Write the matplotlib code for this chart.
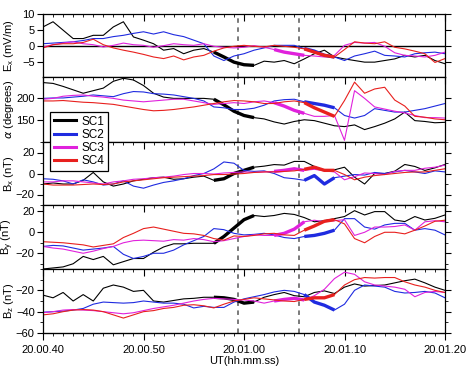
import numpy as np
import matplotlib
matplotlib.use('Agg')
import matplotlib.pyplot as plt
from matplotlib.ticker import MultipleLocator
from matplotlib.lines import Line2D

plt.rcParams['font.family'] = ['Liberation Sans', 'DejaVu Sans']
plt.rcParams['font.size'] = 8
plt.rcParams['mathtext.fontset'] = 'custom'
plt.rcParams['mathtext.rm'] = 'Liberation Sans'

# time axis: seconds after 20:00:40 UT, 1 s samples
t = np.arange(0, 41)

# Ex (mV/m)
ex_sc1 = [6.0, 7.6, 5.0, 2.4, 2.4, 3.4, 3.4, 6.0, 7.6, 2.9, 1.9, 0.8, -1.2, -0.7, -2.3, -1.2, -0.7,
          -1.8, -3.3, -4.9, -5.7, -5.9, -4.6, -4.9, -4.4, -5.4, -3.9, -2.3, -1.2, -3.3, -3.9,
          -4.4, -4.9, -4.9, -4.4, -3.9, -2.8, -3.3, -2.8, -4.4, -5.4]
ex_sc2 = [0.8, 1.0, 1.2, 1.4, 1.8, 2.4, 2.4, 3.0, 3.4, 4.0, 4.5, 3.8, 4.5, 3.6, 3.0, 1.9, 0.8,
          -3.0, -4.4, -3.0, -2.3, -1.2, -0.5, 0.3, 0.3, 0.3, -0.7, -1.5, -2.8, -3.3, -4.4,
          -3.0, -2.3, -1.5, -2.8, -3.0, -3.3, -2.3, -2.0, -1.8, -2.3]
ex_sc3 = [-0.2, 0.5, 1.0, 1.4, 0.8, 0.5, -0.2, 0.3, 1.0, 0.5, 0.3, -0.3, 0.2, 0.8, 0.5, 0.3, 0.8,
          0.0, -0.3, -0.5, -0.3, 0.2, -0.3, -1.0, -1.8, -2.3, -2.8, -3.0, -3.3, -2.8, 0.3,
          1.2, 1.0, 1.2, 0.0, -2.0, -2.8, -3.0, -3.3, -2.8, -1.8]
ex_sc4 = [-0.5, 0.5, 0.8, 0.8, 1.2, 2.2, 0.5, -0.5, -1.2, -1.8, -2.5, -3.3, -3.8, -3.0, -4.2, -3.3,
          -2.8, -1.5, -0.5, 0.0, 0.3, 0.0, -0.2, 0.3, 0.0, -0.3, -0.8, -1.8, -2.8, -3.3, -1.0,
          1.4, 1.0, 0.8, 1.4, -0.3, -0.8, -1.5, -2.3, -5.0, -3.8]

# alpha (degrees)
al_sc1 = [237, 235, 228, 220, 212, 218, 224, 240, 247, 243, 230, 212, 203, 200, 200, 200, 200,
          198, 185, 170, 160, 155, 152, 145, 140, 146, 150, 148, 142, 136, 134, 138, 127, 134,
          142, 152, 168, 148, 146, 143, 144]
al_sc2 = [200, 201, 201, 203, 205, 208, 206, 204, 211, 216, 215, 211, 210, 208, 204, 200, 194,
          180, 178, 174, 174, 177, 184, 194, 197, 198, 192, 188, 184, 178, 160, 154, 160, 176,
          172, 168, 168, 172, 176, 182, 188]
al_sc3 = [198, 200, 205, 207, 208, 205, 203, 200, 196, 194, 192, 194, 196, 198, 198, 194, 190,
          186, 188, 190, 188, 192, 194, 190, 182, 172, 165, 158, 158, 160, 102, 218, 200, 180,
          175, 170, 166, 160, 155, 155, 154]
al_sc4 = [194, 194, 195, 193, 191, 190, 188, 186, 182, 178, 174, 171, 172, 174, 177, 180, 184,
          188, 192, 195, 194, 192, 188, 188, 192, 194, 190, 178, 168, 158, 195, 238, 212, 222,
          226, 196, 182, 158, 156, 152, 150]

# Bx (nT)
bx_sc1 = [-10, -9, -10, -10, -6.5, 1.0, -8, -12, -10, -7, -5.5, -4, -3.5, -5.5, -5, -3.5, -2.5,
          -6.5, -5, 0, 3, 6, 7, 8.5, 8, 11.5, 11.5, 6.7, 3, 3.5, 6, -3.5, -10, 0, 0, 2.2, 8.6,
          6.7, 2.9, 5.4, 8.6]
bx_sc2 = [-5, -5.5, -7, -10, -6, -8, -11, -10, -7, -12, -14, -11, -8.5, -7, -5, -2, 0, 4.4, 11,
          9.8, 2.9, 2, 2.5, 0, -4, -5, -6.5, -2, -10, -4, -2.5, -1, -1.5, 1, 0, 1.5, 3, 1.5, 0,
          2.5, 1.5]
bx_sc3 = [-8, -8, -7, -7, -8, -9, -10, -8, -7, -5.5, -5, -4, -3.5, -2.5, -1, 0, 0, -0.5, 0.5, 1,
          1.5, 1, 1.5, 2, 3, 4.5, 3, 4, 2.5, 1.5, -6, -3, 0.5, 0, -1, 2, 3, 3, 5, 6, 8]
bx_sc4 = [-10, -11, -11, -11, -10.5, -10, -10.5, -10, -8, -7, -6, -5, -4, -3.5, -3, -2.5, -2, -1,
          -1, -0.5, 0, 1, 1.5, 1.5, 2, 2.5, 4, 6, 3, 3, -1, -6, -3.5, -2, -1, 0, 1, 1.5, 1.5, 3,
          4.5]

# By (nT)
by_sc1 = [-35, -34, -33, -30, -23, -26, -23, -31, -28, -25, -25, -19, -14, -11, -11, -10.5,
          -10.5, -10.5, -4, 4, 12, 16, 15, 16, 18, 17, 14, 10, 11, 13, 15, 20.6, 16.5, 19.7,
          19.7, 11.7, 10.2, 15, 11.7, 13.3, 16.5]
by_sc2 = [-13.5, -12.5, -13, -15, -17, -16, -15, -13.5, -21, -25, -23, -20, -20, -17, -12, -8,
          -4, 3.5, 2.5, -1, -2.5, -2, -1, -2.5, -5, -6, -4, -3, -1, 2, 13, 13, 5, 3, 7, 8.5,
          8.5, 2, 3.5, 2, -2.5]
by_sc3 = [-13.5, -15, -16, -18, -20, -18, -15.5, -13.5, -10, -8, -7.5, -8, -8.5, -7, -7.5, -6,
          -7, -9, -8, -6, -4, -2.5, -3, -3, -1, 3, 10, 11.5, 10, 11, 12, -3, 0, 5, 5, 5.5, 7, 2,
          10, 11, 10]
by_sc4 = [-9, -9.5, -10, -11, -12, -14, -12.5, -11, -5, -1, 3.5, 5, 3, 1, -1, -1.5, -3, -6, -7.5,
          -3.5, -4, -3, -1.5, -1, -2.5, -3, 2, 6, 10.5, 12, 8, -6, -10, -4, 0, 0, -1.5, 2, 6,
          10.5, 11.5]

# Bz (nT)
bz_sc1 = [-24.5, -27, -22, -30, -24, -30, -18, -15, -17, -21, -20, -30, -31, -29.5, -28, -27.5,
          -26.5, -26.5, -27, -28.5, -32, -31, -26.5, -24, -22, -25, -26, -22, -20.5, -23, -17,
          -14, -16, -15.5, -15, -13, -11, -9.5, -13, -17, -20]
bz_sc2 = [-40.5, -40, -39.5, -38.5, -37, -33, -31, -31.5, -32, -31.5, -30, -31, -32, -32, -33,
          -36.5, -35, -36, -36, -31, -28, -26, -24, -21.5, -20, -21, -24, -31, -34, -38.5, -33,
          -20, -15, -16, -17, -21, -22.5, -22, -21, -22.5, -27]
bz_sc3 = [-41, -40, -38.5, -38, -38.5, -39, -40, -41, -42, -41, -39, -37, -35.5, -34, -32, -30,
          -28.5, -27.5, -28, -28.5, -29, -30, -32, -30, -28.5, -27.5, -29, -25, -19, -9, -3, -5,
          -12, -15, -16, -17, -19, -26, -22, -21, -22]
bz_sc4 = [-43, -42, -40, -38.5, -38, -38.5, -40, -43, -46, -43, -40, -39, -37, -36, -34, -33.5,
          -34.5, -36.5, -33, -30, -28.5, -27, -28, -29, -30, -30.5, -28.5, -27, -27, -24, -15,
          -10, -8, -8.5, -8, -8, -12, -15, -17, -20, -22]

# thick (highlighted) time windows, s after 20:00:40
win_sc1 = (17, 21)
win_sc2 = (26, 29)
win_sc3 = (23, 26)
win_sc4 = (26, 29)

dash_t = [19.4, 25.5]
xtick_t = [0, 10, 20, 30, 40]
xtick_lab = ['20.00.40', '20.00.50', '20.01.00', '20.01.10', '20.01.20']

names = ['SC1', 'SC2', 'SC3', 'SC4']
colors = ['black', '#1f2be0', '#e021dc', '#e8201e']
wins = [win_sc1, win_sc2, win_sc3, win_sc4]

panels = [
    ([ex_sc1, ex_sc2, ex_sc3, ex_sc4], r'E$_\mathregular{x}$ (mV/m)', (-9.5, 10), [-5, 0, 5, 10], None),
    ([al_sc1, al_sc2, al_sc3, al_sc4], r'$\alpha$ (degrees)', (98, 250), [150, 200], None),
    ([bx_sc1, bx_sc2, bx_sc3, bx_sc4], r'B$_\mathregular{x}$ (nT)', (-30, 30), [-20, 0, 20], 10),
    ([by_sc1, by_sc2, by_sc3, by_sc4], r'B$_\mathregular{y}$ (nT)', (-35, 26), [-20, 0, 20], 10),
    ([bz_sc1, bz_sc2, bz_sc3, bz_sc4], r'B$_\mathregular{z}$ (nT)', (-60, 0), [-60, -40, -20], 10),
]

fig, axes = plt.subplots(5, 1, figsize=(4.67, 3.68), dpi=100, sharex=True,
                         gridspec_kw=dict(height_ratios=[63, 65, 63, 64, 64], hspace=0))
fig.subplots_adjust(left=43/467, right=445/467, top=1-14/368, bottom=1-333/368)

for ax, (series, ylab, ylim, yt, ymin) in zip(axes, panels):
    for y, c, w in zip(series, colors, wins):
        y = np.array(y, dtype=float)
        ax.plot(t, y, color=c, lw=0.8)
        m = (t >= w[0]) & (t <= w[1])
        ax.plot(t[m], y[m], color=c, lw=2.4, solid_capstyle='butt')
    for d in dash_t:
        ax.axvline(d, color='#707070', ls=(0, (2.5, 2.5)), lw=1.3, zorder=0)
    ax.set_xlim(0, 40)
    ax.set_ylim(*ylim)
    ax.set_yticks(yt)
    if ymin:
        ax.yaxis.set_minor_locator(MultipleLocator(ymin))
    ax.set_ylabel(ylab)
    ax.yaxis.set_label_coords(-0.068, 0.5)
    ax.tick_params(axis='y', which='both', direction='out', left=True, right=True, pad=2)
    ax.tick_params(axis='y', which='major', length=4)
    ax.tick_params(axis='y', which='minor', length=2.5)
    ax.set_xticks(xtick_t)
    ax.xaxis.set_minor_locator(MultipleLocator(1))
    ax.tick_params(axis='x', which='both', direction='in', top=True, bottom=False,
                   labelbottom=False, labeltop=False)
    ax.tick_params(axis='x', which='major', length=5)
    ax.tick_params(axis='x', which='minor', length=2.5)
    for s in ax.spines.values():
        s.set_linewidth(0.9)

axes[0].axhline(0, color='black', lw=1.0, zorder=1)

# bottom time axis with outward ticks
sec = axes[-1].secondary_xaxis('bottom')
sec.set_xticks(xtick_t)
sec.set_xticklabels(xtick_lab)
sec.xaxis.set_minor_locator(MultipleLocator(1))
sec.tick_params(axis='x', which='major', direction='out', length=5)
sec.tick_params(axis='x', which='minor', direction='out', length=2.5)
sec.set_xlabel('UT(hh.mm.ss)', labelpad=1)

handles = [Line2D([], [], color=c, lw=2.2) for c in colors]
leg = fig.legend(handles, names, loc='upper left', bbox_to_anchor=(50/467, 1-112/368),
                 borderaxespad=0, frameon=True, fancybox=False, edgecolor='black',
                 framealpha=1, handlelength=1.9, handletextpad=0.45, labelspacing=0.1,
                 borderpad=0.3, fontsize=8.5)
leg.get_frame().set_linewidth(0.9)
leg.set_zorder(10)

fig.savefig('out.png', dpi=100)
